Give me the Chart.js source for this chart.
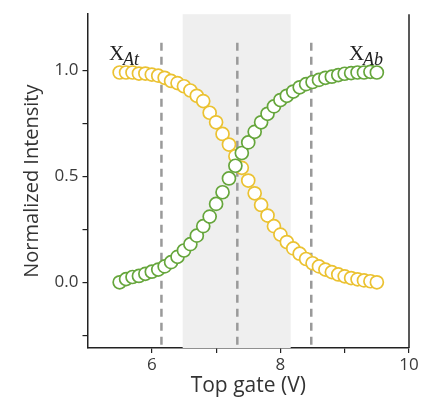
<!DOCTYPE html>
<html>
<head>
<meta charset="utf-8">
<script src="https://cdn.jsdelivr.net/npm/chart.js@4.4.1/dist/chart.umd.min.js"></script>
<style>
  html, body { margin: 0; padding: 0; background: #fff; }
  canvas { display: block; }
</style>
</head>
<body>
<canvas id="gateChart" width="421" height="403"></canvas>
<script>
// data
const gateV = [
  5.5, 5.6, 5.7, 5.8, 5.9, 6.0, 6.1, 6.2, 6.3, 6.4,
  6.5, 6.6, 6.7, 6.8, 6.9, 7.0, 7.1, 7.2, 7.3, 7.4,
  7.5, 7.6, 7.7, 7.8, 7.9, 8.0, 8.1, 8.2, 8.3, 8.4,
  8.5, 8.6, 8.7, 8.8, 8.9, 9.0, 9.1, 9.2, 9.3, 9.4, 9.5
];
const xAt = [
  0.99, 0.99, 0.99, 0.985, 0.985, 0.98, 0.975, 0.965, 0.95, 0.94,
  0.925, 0.905, 0.88, 0.855, 0.80, 0.755, 0.70, 0.65, 0.595, 0.54,
  0.48, 0.42, 0.365, 0.315, 0.265, 0.225, 0.19, 0.16, 0.135, 0.11,
  0.09, 0.075, 0.06, 0.048, 0.037, 0.028, 0.02, 0.014, 0.009, 0.005, 0.0
];
const xAb = [
  0.0, 0.015, 0.025, 0.03, 0.04, 0.05, 0.06, 0.075, 0.095, 0.12,
  0.15, 0.18, 0.22, 0.265, 0.31, 0.37, 0.425, 0.49, 0.55, 0.61,
  0.66, 0.71, 0.755, 0.795, 0.83, 0.86, 0.88, 0.90, 0.92, 0.935,
  0.945, 0.955, 0.965, 0.97, 0.978, 0.984, 0.987, 0.99, 0.99, 0.993, 0.99
];
const xTicks = [6, 7, 8, 9, 10];
const yTicks = [-0.25, 0, 0.25, 0.5, 0.75, 1.0];
const markerLines = [6.15, 7.33, 8.48];
const shadeRange = [6.48, 8.16];

const yellow = "#EBC232";
const green = "#66A63C";

function toPoints(ys) {
  return gateV.map((x, i) => ({ x: x, y: ys[i] }));
}

// shaded band + dashed guide lines behind the points
const backdrop = {
  id: "backdrop",
  beforeDatasetsDraw(chart) {
    const { ctx, chartArea, scales } = chart;
    const xs = scales.x, ys = scales.y;
    ctx.save();
    ctx.fillStyle = "#efefef";
    const x0 = xs.getPixelForValue(shadeRange[0]);
    const x1 = xs.getPixelForValue(shadeRange[1]);
    ctx.fillRect(x0, chartArea.top, x1 - x0, chartArea.bottom - chartArea.top);

    ctx.strokeStyle = "#9a9a9a";
    ctx.lineWidth = 2.5;
    ctx.setLineDash([8, 6]);
    markerLines.forEach((v) => {
      const px = xs.getPixelForValue(v);
      ctx.beginPath();
      ctx.moveTo(px, ys.getPixelForValue(1.13));
      ctx.lineTo(px, chartArea.bottom);
      ctx.stroke();
    });
    ctx.restore();
  },
  afterDraw(chart) {
    const { ctx, chartArea } = chart;
    ctx.save();
    // right spine
    ctx.strokeStyle = "#222";
    ctx.lineWidth = 1.5;
    ctx.beginPath();
    ctx.moveTo(chartArea.right, chartArea.top);
    ctx.lineTo(chartArea.right, chartArea.bottom);
    ctx.stroke();

    // X_At / X_Ab labels
    ctx.fillStyle = "#222";
    ctx.textBaseline = "alphabetic";
    ctx.font = "21px 'Liberation Serif', serif";
    ctx.fillText("X", 109, 60);
    ctx.fillText("X", 349, 60);
    ctx.font = "italic 18px 'Liberation Serif', serif";
    ctx.fillText("At", 123, 65);
    ctx.fillText("Ab", 363, 65);
    ctx.restore();
  }
};

const ctx = document.getElementById("gateChart");

new Chart(ctx, {
  type: "scatter",
  data: {
    datasets: [
      {
        label: "X_Ab",
        data: toPoints(xAb),
        borderColor: green,
        backgroundColor: "#ffffff",
        pointRadius: 6.5,
        pointBorderWidth: 1.7,
        showLine: false,
        order: 0,
      },
      {
        label: "X_At",
        data: toPoints(xAt),
        borderColor: yellow,
        backgroundColor: "#ffffff",
        pointRadius: 6.5,
        pointBorderWidth: 1.7,
        showLine: false,
        order: 1,
      },
    ],
  },
  options: {
    responsive: false,
    animation: false,
    layout: { padding: { top: 14, right: 12, left: 0, bottom: 0 } },
    plugins: {
      legend: { display: false },
      tooltip: { enabled: false },
    },
    scales: {
      x: {
        type: "linear",
        min: 5,
        max: 10,
        afterBuildTicks: (scale) => {
          scale.ticks = xTicks.map((v) => ({ value: v }));
        },
        afterFit: (scale) => {
          scale.height = 55;
        },
        border: { display: true, color: "#222", width: 1.5 },
        grid: { drawOnChartArea: false, drawTicks: true, tickLength: 5, color: "#222", lineWidth: 1.2 },
        ticks: {
          padding: 2,
          maxRotation: 0,
          color: "#3a3a3a",
          font: { family: "'Open Sans'", size: 17 },
          callback: (value) => (value % 2 === 0 ? value : ""),
        },
        title: {
          display: true,
          text: "Top gate (V)",
          color: "#333",
          font: { family: "'Open Sans'", size: 21 },
          padding: { top: 0, bottom: 4 },
        },
      },
      y: {
        type: "linear",
        min: -0.31,
        max: 1.265,
        afterBuildTicks: (scale) => {
          scale.ticks = yTicks.map((v) => ({ value: v }));
        },
        afterFit: (scale) => {
          scale.width = 87.5;
        },
        border: { display: true, color: "#222", width: 1.5 },
        grid: { drawOnChartArea: false, drawTicks: true, tickLength: 5, color: "#222", lineWidth: 1.2 },
        ticks: {
          padding: 4,
          color: "#3a3a3a",
          font: { family: "'Open Sans'", size: 17 },
          callback: (value) => (Math.abs(value * 2 - Math.round(value * 2)) < 1e-6 ? value.toFixed(1) : ""),
        },
        title: {
          display: true,
          text: "Normalized Intensity",
          color: "#333",
          font: { family: "'Open Sans'", size: 20 },
          padding: { top: 20, bottom: 0 },
        },
      },
    },
  },
  plugins: [backdrop],
});
</script>
</body>
</html>
